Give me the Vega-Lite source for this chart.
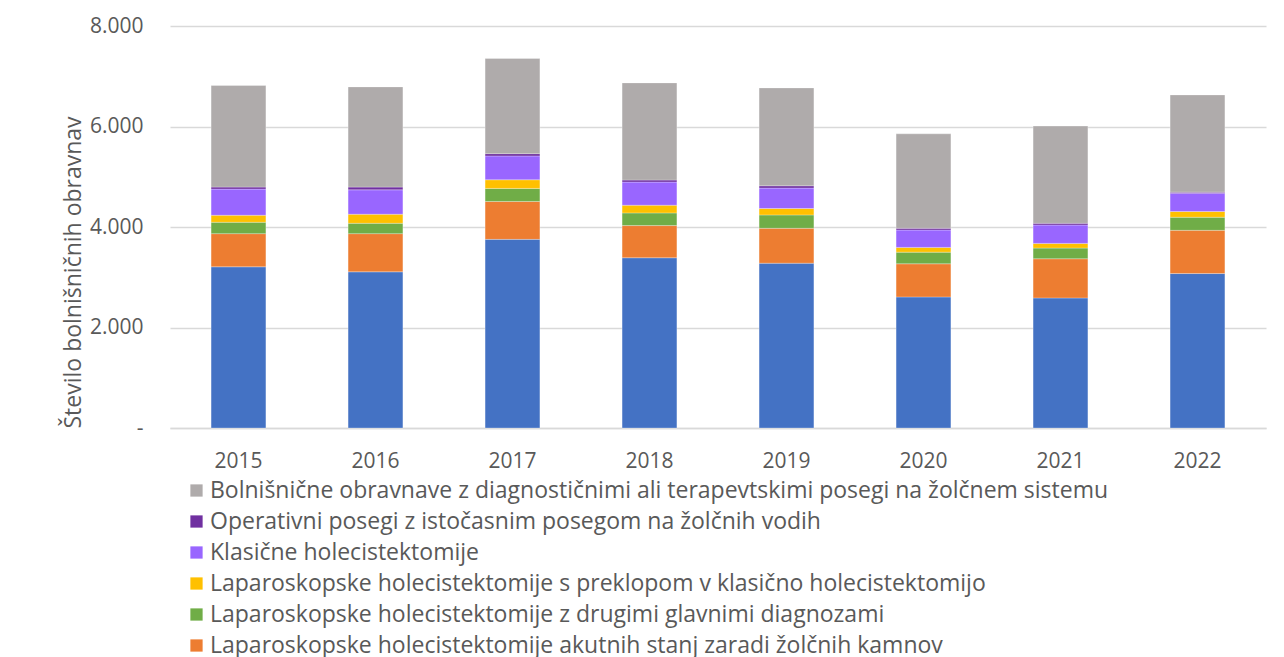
{
  "$schema": "https://vega.github.io/schema/vega-lite/v6.json",
  "autosize": "none",
  "width": 1096,
  "height": 402,
  "padding": {"left": 170, "top": 26, "right": 18, "bottom": 229},
  "background": "white",
  "config": {
    "font": "Open Sans",
    "view": {"stroke": null},
    "axis": {"labelColor": "#595959", "titleColor": "#595959", "labelFont": "Open Sans", "titleFont": "Open Sans"}
  },
  "data": {"values": [
    {"leto": "2015", "s": "L", "o": 1, "v": 3208},
    {"leto": "2015", "s": "A", "o": 2, "v": 660},
    {"leto": "2015", "s": "D", "o": 3, "v": 226},
    {"leto": "2015", "s": "P", "o": 4, "v": 140},
    {"leto": "2015", "s": "K", "o": 5, "v": 520},
    {"leto": "2015", "s": "O", "o": 6, "v": 40},
    {"leto": "2015", "s": "B", "o": 7, "v": 2021},
    {"leto": "2016", "s": "L", "o": 1, "v": 3108},
    {"leto": "2016", "s": "A", "o": 2, "v": 760},
    {"leto": "2016", "s": "D", "o": 3, "v": 206},
    {"leto": "2016", "s": "P", "o": 4, "v": 180},
    {"leto": "2016", "s": "K", "o": 5, "v": 486},
    {"leto": "2016", "s": "O", "o": 6, "v": 54},
    {"leto": "2016", "s": "B", "o": 7, "v": 1994},
    {"leto": "2017", "s": "L", "o": 1, "v": 3754},
    {"leto": "2017", "s": "A", "o": 2, "v": 754},
    {"leto": "2017", "s": "D", "o": 3, "v": 260},
    {"leto": "2017", "s": "P", "o": 4, "v": 172},
    {"leto": "2017", "s": "K", "o": 5, "v": 474},
    {"leto": "2017", "s": "O", "o": 6, "v": 46},
    {"leto": "2017", "s": "B", "o": 7, "v": 1894},
    {"leto": "2018", "s": "L", "o": 1, "v": 3388},
    {"leto": "2018", "s": "A", "o": 2, "v": 640},
    {"leto": "2018", "s": "D", "o": 3, "v": 252},
    {"leto": "2018", "s": "P", "o": 4, "v": 154},
    {"leto": "2018", "s": "K", "o": 5, "v": 460},
    {"leto": "2018", "s": "O", "o": 6, "v": 40},
    {"leto": "2018", "s": "B", "o": 7, "v": 1934},
    {"leto": "2019", "s": "L", "o": 1, "v": 3280},
    {"leto": "2019", "s": "A", "o": 2, "v": 694},
    {"leto": "2019", "s": "D", "o": 3, "v": 266},
    {"leto": "2019", "s": "P", "o": 4, "v": 128},
    {"leto": "2019", "s": "K", "o": 5, "v": 406},
    {"leto": "2019", "s": "O", "o": 6, "v": 46},
    {"leto": "2019", "s": "B", "o": 7, "v": 1948},
    {"leto": "2020", "s": "L", "o": 1, "v": 2608},
    {"leto": "2020", "s": "A", "o": 2, "v": 660},
    {"leto": "2020", "s": "D", "o": 3, "v": 232},
    {"leto": "2020", "s": "P", "o": 4, "v": 94},
    {"leto": "2020", "s": "K", "o": 5, "v": 346},
    {"leto": "2020", "s": "O", "o": 6, "v": 34},
    {"leto": "2020", "s": "B", "o": 7, "v": 1880},
    {"leto": "2021", "s": "L", "o": 1, "v": 2588},
    {"leto": "2021", "s": "A", "o": 2, "v": 780},
    {"leto": "2021", "s": "D", "o": 3, "v": 212},
    {"leto": "2021", "s": "P", "o": 4, "v": 94},
    {"leto": "2021", "s": "K", "o": 5, "v": 366},
    {"leto": "2021", "s": "O", "o": 6, "v": 34},
    {"leto": "2021", "s": "B", "o": 7, "v": 1934},
    {"leto": "2022", "s": "L", "o": 1, "v": 3074},
    {"leto": "2022", "s": "A", "o": 2, "v": 860},
    {"leto": "2022", "s": "D", "o": 3, "v": 260},
    {"leto": "2022", "s": "P", "o": 4, "v": 114},
    {"leto": "2022", "s": "K", "o": 5, "v": 366},
    {"leto": "2022", "s": "O", "o": 6, "v": 20},
    {"leto": "2022", "s": "B", "o": 7, "v": 1934}
  ]},
  "transform": [
    {"lookup": "s", "from": {"data": {"values": [
      {"s": "B", "naziv": "Bolnišnične obravnave z diagnostičnimi ali terapevtskimi posegi na žolčnem sistemu"},
      {"s": "O", "naziv": "Operativni posegi z istočasnim posegom na žolčnih vodih"},
      {"s": "K", "naziv": "Klasične holecistektomije"},
      {"s": "P", "naziv": "Laparoskopske holecistektomije s preklopom v klasično holecistektomijo"},
      {"s": "D", "naziv": "Laparoskopske holecistektomije z drugimi glavnimi diagnozami"},
      {"s": "A", "naziv": "Laparoskopske holecistektomije akutnih stanj zaradi žolčnih kamnov"},
      {"s": "L", "naziv": "Laparoskopske holecistektomije brez zapletov"}
    ]}, "key": "s", "fields": ["naziv"]}}
  ],
  "mark": {"type": "bar", "stroke": "#ffffff", "strokeOpacity": 0.35, "strokeWidth": 0.8},
  "encoding": {
    "x": {
      "field": "leto", "type": "nominal", "title": null,
      "scale": {"paddingInner": 0.6, "paddingOuter": 0.3},
      "axis": {"labelAngle": 0, "labelFontSize": 21, "labelPadding": 22, "ticks": false, "domainColor": "#d9d9d9", "domainWidth": 1.5, "grid": false}
    },
    "y": {
      "aggregate": "sum", "field": "v", "type": "quantitative", "stack": "zero",
      "title": "Število bolnišničnih obravnav",
      "scale": {"domain": [0, 8000]},
      "axis": {
        "values": [0, 2000, 4000, 6000, 8000],
        "labelExpr": "datum.value == 0 ? '-' : replace(format(datum.value, ',.0f'), ',', '.')",
        "labelFontSize": 21, "labelPadding": 27, "titleFontSize": 23, "titleFontWeight": "normal", "titlePadding": 4,
        "titleAnchor": "start",
        "ticks": false, "domain": false, "gridColor": "#d9d9d9", "gridWidth": 1.5
      }
    },
    "order": {"field": "o", "type": "quantitative"},
    "color": {
      "field": "naziv", "type": "nominal",
      "scale": {
        "domain": [
          "Bolnišnične obravnave z diagnostičnimi ali terapevtskimi posegi na žolčnem sistemu",
          "Operativni posegi z istočasnim posegom na žolčnih vodih",
          "Klasične holecistektomije",
          "Laparoskopske holecistektomije s preklopom v klasično holecistektomijo",
          "Laparoskopske holecistektomije z drugimi glavnimi diagnozami",
          "Laparoskopske holecistektomije akutnih stanj zaradi žolčnih kamnov",
          "Laparoskopske holecistektomije brez zapletov"
        ],
        "range": ["#AFABAB", "#7030A0", "#9966FF", "#FFC000", "#70AD47", "#ED7D31", "#4472C4"]
      },
      "legend": {
        "title": null, "orient": "none", "legendX": 15, "legendY": 453,
        "symbolType": "square", "symbolSize": 150, "symbolStrokeWidth": 0,
        "labelFontSize": 23, "labelColor": "#595959", "labelFont": "Open Sans", "labelLimit": 1200,
        "rowPadding": 7, "labelOffset": 2
      }
    }
  }
}
